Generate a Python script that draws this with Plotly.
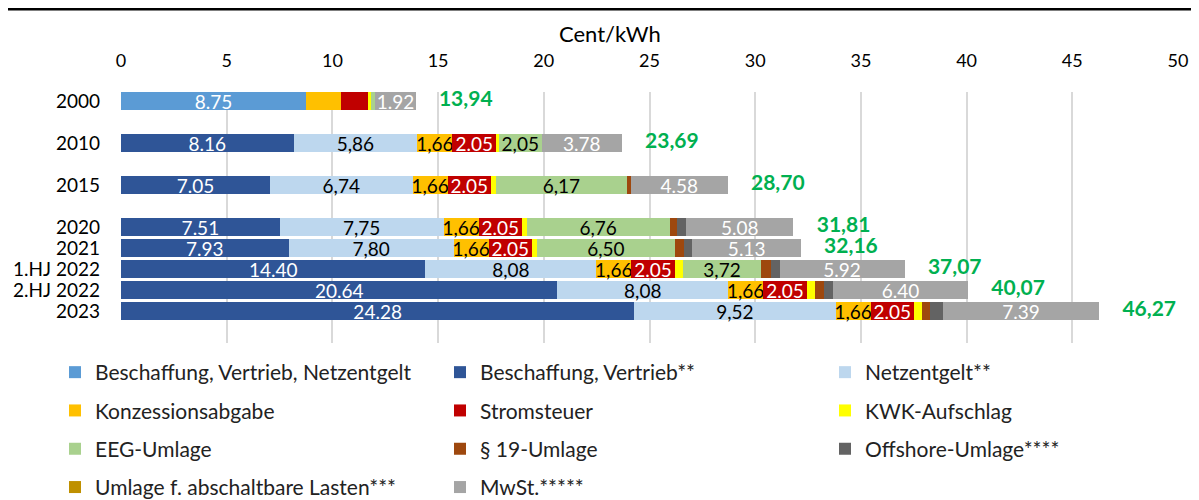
import plotly.graph_objects as go

# ---------------- data ----------------
# row slots (None = empty gap row)
categories = ["2000", None, "2010", None, "2015", None, "2020", "2021", "1.HJ 2022", "2.HJ 2022", "2023"]
years = [c for c in categories if c is not None]

beschaffung_netz = [8.75, 0, 0, 0, 0, 0, 0, 0]
beschaffung_vertrieb = [0, 8.16, 7.05, 7.51, 7.93, 14.40, 20.64, 24.28]
netzentgelt = [0, 5.86, 6.74, 7.75, 7.80, 8.08, 8.08, 9.52]
konzession = [1.66, 1.66, 1.66, 1.66, 1.66, 1.66, 1.66, 1.66]
stromsteuer = [1.28, 2.05, 2.05, 2.05, 2.05, 2.05, 2.05, 2.05]
kwk = [0.13, 0.13, 0.25, 0.22, 0.25, 0.38, 0.38, 0.36]
eeg = [0.20, 2.05, 6.17, 6.76, 6.50, 3.72, 0, 0]
umlage19 = [0, 0, 0.20, 0.36, 0.43, 0.44, 0.44, 0.42]
offshore = [0, 0, 0, 0.42, 0.40, 0.42, 0.42, 0.59]
abschaltbar = [0, 0, 0, 0, 0.01, 0, 0, 0]
mwst = [1.92, 3.78, 4.58, 5.08, 5.13, 5.92, 6.40, 7.39]

series = [
    ("Beschaffung, Vertrieb, Netzentgelt", beschaffung_netz),
    ("Beschaffung, Vertrieb**", beschaffung_vertrieb),
    ("Netzentgelt**", netzentgelt),
    ("Konzessionsabgabe", konzession),
    ("Stromsteuer", stromsteuer),
    ("KWK-Aufschlag", kwk),
    ("EEG-Umlage", eeg),
    ("§ 19-Umlage", umlage19),
    ("Offshore-Umlage****", offshore),
    ("Umlage f. abschaltbare Lasten***", abschaltbar),
    ("MwSt.*****", mwst),
]

# ---------------- style ----------------
FONT = "Lato, 'Open Sans', sans-serif"
colors = ["#5B9BD5", "#2F5597", "#BDD7EE", "#FFC000", "#C00000", "#FFFF00",
          "#A9D18E", "#9E480E", "#636363", "#BF9000", "#A5A5A5"]
text_colors = ["white", "white", "black", "black", "white", "black",
               "black", "black", "black", "black", "white"]
decimal_sep = [".", ".", ",", ",", ".", ",", ",", ",", ",", ",", "."]
legend_of = ["legend", "legend2", "legend3", "legend", "legend2", "legend3",
             "legend", "legend2", "legend3", "legend", "legend2"]
hidden_labels = {("Konzessionsabgabe", "2000")}
MIN_LABEL = 1.5

W, H = 1199, 500
ML, MR, MT, MB = 113, 29, 84, 165
PW, PH = W - ML - MR, H - MT - MB

row_pos = [i for i, c in enumerate(categories) if c is not None]

fig = go.Figure()
for k, (name, vals) in enumerate(series):
    texts = []
    for y, v in zip(years, vals):
        if v >= MIN_LABEL and (name, y) not in hidden_labels:
            texts.append(f"{v:.2f}".replace(".", decimal_sep[k]))
        else:
            texts.append("")
    fig.add_trace(go.Bar(
        name=name, y=row_pos, x=vals, orientation="h",
        marker=dict(color=colors[k], line=dict(width=0)),
        text=texts, textposition="inside", insidetextanchor="middle",
        textangle=0, constraintext="none",
        textfont=dict(family=FONT, size=19, color=text_colors[k]),
        legend=legend_of[k], legendgroup=name, hoverinfo="x+name",
    ))

totals = [round(sum(s[1][i] for s in series), 2) for i in range(len(years))]
fig.add_trace(go.Scatter(
    x=[t + 1.1 for t in totals], y=row_pos, mode="text",
    text=[f"{t:.2f}".replace(".", ",") for t in totals],
    textposition="middle right", cliponaxis=False, showlegend=False,
    textfont=dict(family=FONT, size=21, color="#00B050", weight="bold"),
    hoverinfo="skip",
))

legend_common = dict(orientation="v", xref="container", yref="container",
                     xanchor="left", yanchor="top", y=0.312, tracegroupgap=8,
                     font=dict(family=FONT, size=21, color="#222"),
                     bgcolor="rgba(0,0,0,0)", itemclick=False)

fig.update_layout(
    width=W, height=H,
    margin=dict(l=ML, r=MR, t=MT, b=MB, autoexpand=False),
    paper_bgcolor="white", plot_bgcolor="white",
    barmode="stack", bargap=0.12,
    font=dict(family=FONT, size=19, color="black"),
    xaxis=dict(range=[0, 50], dtick=5, side="top", showgrid=True, automargin=False,
               gridcolor="#D9D9D9", gridwidth=1.5, zeroline=False, showline=False,
               ticks="", ticklabelstandoff=20,
               tickfont=dict(family=FONT, size=18, color="black")),
    yaxis=dict(range=[11.52, -0.43], tickvals=row_pos, ticktext=years, automargin=False,
               showgrid=False, zeroline=False, showline=False, ticks="",
               ticklabelstandoff=20, tickfont=dict(family=FONT, size=19, color="black")),
    legend=dict(x=0.0392, **legend_common),
    legend2=dict(x=0.3603, **legend_common),
    legend3=dict(x=0.6814, **legend_common),
    showlegend=True,
    annotations=[dict(text="Cent/kWh", xref="paper", yref="paper", x=0.4626, y=1 + 59 / PH,
                      xanchor="center", yanchor="middle", showarrow=False,
                      font=dict(family=FONT, size=22, color="black"))],
    shapes=[dict(type="line", xref="paper", yref="paper",
                 x0=-ML / PW, x1=(W - ML) / PW, y0=1 + (MT - 1.2) / PH, y1=1 + (MT - 1.2) / PH,
                 line=dict(color="black", width=2.5))],
)

fig.write_html("out.html")
